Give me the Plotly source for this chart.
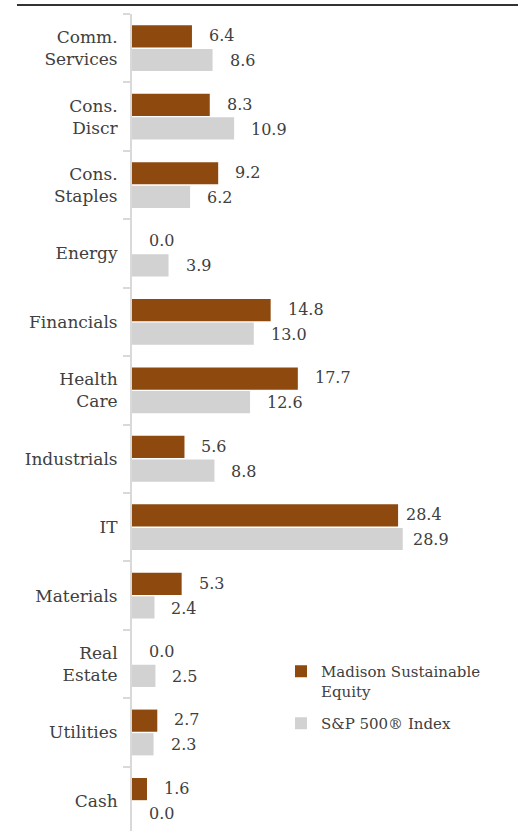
import plotly.graph_objects as go

categories = ["Comm.<br>Services", "Cons.<br>Discr", "Cons.<br>Staples", "Energy", "Financials",
              "Health<br>Care", "Industrials", "IT", "Materials", "Real<br>Estate", "Utilities", "Cash"]
madison = [6.4, 8.3, 9.2, 0.0, 14.8, 17.7, 5.6, 28.4, 5.3, 0.0, 2.7, 1.6]
sp500 = [8.6, 10.9, 6.2, 3.9, 13.0, 12.6, 8.8, 28.9, 2.4, 2.5, 2.3, 0.0]
series_names = ["Madison Sustainable<br>Equity", "S&P 500® Index"]

BROWN = "#8E4A0E"
GRAY = "#D3D2D3"
TEXT = "#404040"
FONT = "DejaVu Serif"

fig = go.Figure()
fig.add_trace(go.Bar(y=categories, x=madison, orientation="h", name=series_names[0],
                     legendgroup="a", marker=dict(color=BROWN, line=dict(width=0))))
fig.add_trace(go.Bar(y=categories, x=sp500, orientation="h", name=series_names[1],
                     legendgroup="b", marker=dict(color=GRAY, line=dict(width=0))))

# data labels
for vals, ysh, in [(madison, 12.5), (sp500, -12.5)]:
    for cat, v in zip(categories, vals):
        xs = 15
        if cat == "IT":
            xs = 6 if ysh > 0 else 8
        fig.add_annotation(x=v, y=cat, text=f"{v:.1f}", showarrow=False,
                           xanchor="left", yanchor="middle", xshift=xs, yshift=ysh,
                           font=dict(family=FONT, size=16, color=TEXT))

fig.add_shape(type="line", xref="paper", yref="paper",
              x0=(17 - 132) / 386, x1=1, y0=1 + 9 / 817, y1=1 + 9 / 817,
              line=dict(color="#333333", width=2))

fig.update_layout(
    width=518, height=831,
    margin=dict(l=132, r=0, t=14, b=0),
    paper_bgcolor="white", plot_bgcolor="white",
    barmode="group", bargap=0.31, bargroupgap=0.06,
    font=dict(family=FONT, size=17, color=TEXT),
    xaxis=dict(range=[0, 41.2], visible=False),
    yaxis=dict(range=[11.44, -0.5], type="category", showline=True, linecolor="#D9D9D9",
               linewidth=2, ticks="outside", tickson="boundaries", ticklen=7,
               tickcolor="#D9D9D9", tickwidth=1.5, showgrid=False, ticklabelstandoff=9,
               tickfont=dict(family=FONT, size=17, color=TEXT)),
    legend=dict(x=(281 - 132) / 386, y=(831 - 655) / 817, xanchor="left", yanchor="top",
                font=dict(family=FONT, size=15, color=TEXT), valign="top",
                bgcolor="rgba(0,0,0,0)", tracegroupgap=10),
    showlegend=True,
)

fig.write_html("out.html")
